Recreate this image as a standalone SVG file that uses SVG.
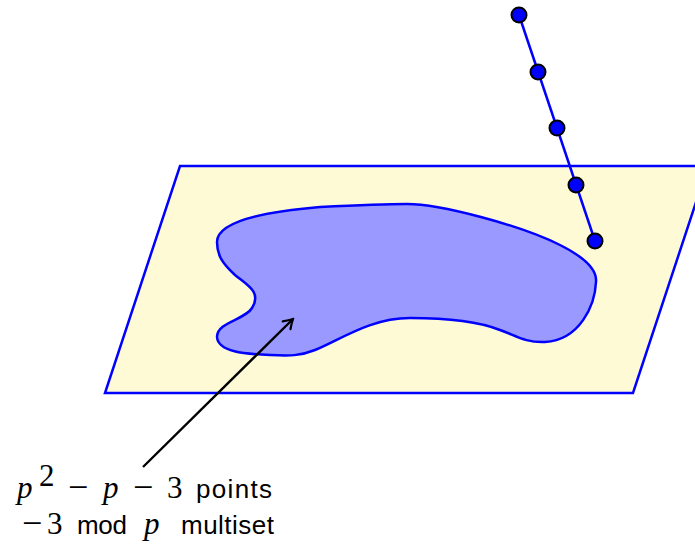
<svg xmlns="http://www.w3.org/2000/svg" width="695" height="546" viewBox="0 0 695 546">
<style>
.plane{fill:#fffad6;stroke:#0000ff;stroke-width:2.5;stroke-linejoin:miter}
.blob{fill:#9999ff;stroke:#0000ff;stroke-width:2.5}
.line{stroke:#0000ff;stroke-width:2.5;fill:none}
.pt{fill:#0000ff;stroke:#000;stroke-width:2}
.arrow{stroke:#000;stroke-width:2.4;fill:none}
.sans{font-family:"Liberation Sans","DejaVu Sans",sans-serif;font-size:26px;fill:#000}
.math{font-family:"Liberation Serif","DejaVu Serif",serif;font-size:31px;fill:#000}
.minus{font-family:"Liberation Serif","DejaVu Serif",serif;font-size:36px;fill:#000}
.it{font-style:italic}
</style>
<defs>
<marker id="open" viewBox="0 0 14 14" refX="12" refY="7" markerWidth="14" markerHeight="14" markerUnits="userSpaceOnUse" orient="auto">
<path d="M3,1.5 Q8,5 12,7 Q8,9 3,12.5" fill="none" stroke="#000" stroke-width="2.2" stroke-linecap="round"/>
</marker>
</defs>
<g id="plane"><polygon class="plane" points="180,166 708,166 633,393 105,393"/></g>
<g id="region"><path class="blob" d="M217,242 C217,222 260,212 320,207 C360,205 390,204 407,204 C440,204 520,225 560,245 C590,260 597,272 596,282 C595,305 580,340 545,342 C525,343 515,335 500,330 C480,322 450,318 410,318 C370,318 340,340 315,350 C300,356 290,356 270,355 C245,354 218,352 217,337 C217,322 245,320 252,308 C262,292 247,285 235,275 C222,263 217,255 217,242 Z"/></g>
<g id="connectors">
<line class="line" x1="519" y1="15" x2="595" y2="241"/>
<line class="arrow" x1="143" y1="467" x2="293" y2="319" marker-end="url(#open)"/>
</g>
<g id="points">
<circle class="pt" cx="519" cy="15" r="7.5"/>
<circle class="pt" cx="538" cy="72" r="7.5"/>
<circle class="pt" cx="557" cy="128" r="7.5"/>
<circle class="pt" cx="576" cy="185" r="7.5"/>
<circle class="pt" cx="595" cy="241" r="7.5"/>
</g>
<g id="label">
<text y="498"><tspan class="math it" x="17">p</tspan><tspan class="math" x="39" y="486" font-size="20">2</tspan><tspan class="minus" x="68" y="499">−</tspan><tspan class="math it" x="103" y="498">p</tspan><tspan class="minus" x="133" y="499">−</tspan><tspan class="math" x="167" font-size="26" y="498">3</tspan><tspan class="sans" x="196" textLength="76">points</tspan></text>
<text y="534"><tspan class="minus" x="22" y="535">−</tspan><tspan class="math" x="47" font-size="26" y="534">3</tspan><tspan class="sans" x="77" textLength="50">mod</tspan><tspan class="math it" x="144">p</tspan><tspan class="sans" x="181" textLength="93">multiset</tspan></text>
</g>
</svg>
